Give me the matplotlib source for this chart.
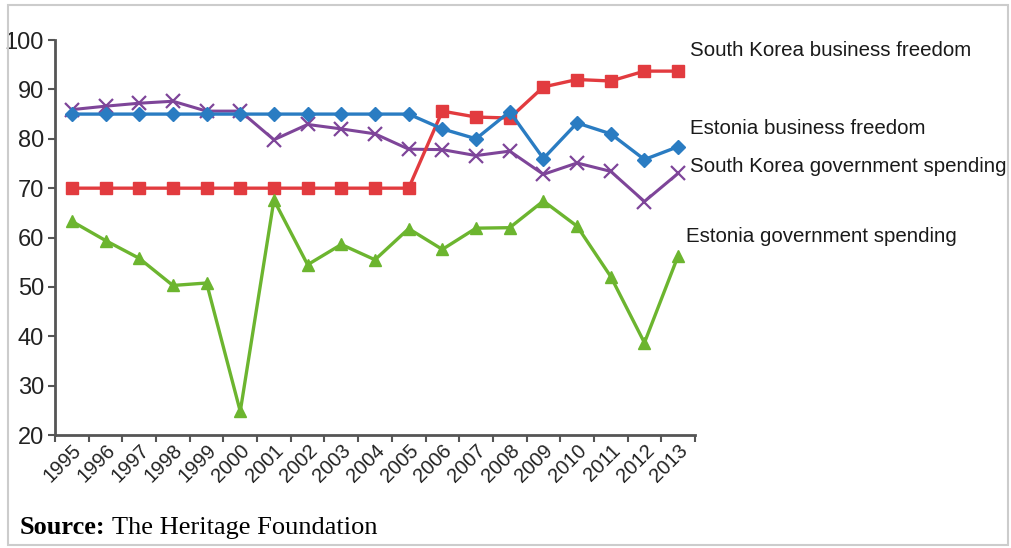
import numpy as np
import matplotlib.pyplot as plt
from matplotlib.patches import Rectangle
from matplotlib.ticker import FixedLocator, NullFormatter

years = [str(y) for y in range(1995, 2014)]

sk_business = [70, 70, 70, 70, 70, 70, 70, 70, 70, 70, 70,
               85.6, 84.4, 84.2, 90.5, 92.0, 91.7, 93.7, 93.7]
ee_business = [85, 85, 85, 85, 85, 85, 85, 85, 85, 85, 85,
               82.0, 80.0, 85.5, 76.0, 83.2, 81.0, 75.8, 78.4]
sk_spending = [85.9, 86.6, 87.2, 87.6, 85.6, 85.6, 79.8, 82.9, 82.0, 81.0,
               77.9, 77.8, 76.6, 77.5, 72.8, 75.1, 73.4, 67.3, 73.0]
ee_spending = [63.3, 59.4, 55.8, 50.3, 50.8, 24.8, 67.6, 54.5, 58.6, 55.5,
               61.8, 57.6, 61.9, 62.0, 67.4, 62.3, 52.1, 38.7, 56.3]

series_names = ["South Korea business freedom", "Estonia business freedom",
                "South Korea government spending", "Estonia government spending"]

plt.rcParams['font.family'] = ['Liberation Sans', 'DejaVu Sans']

fig = plt.figure(figsize=(10.11, 5.48), dpi=100)
ax = fig.add_axes([0.0544, 0.206, 0.633, 0.721])

x = np.arange(len(years))
ax.plot(x, sk_business, color='#e23b3f', lw=2.4, marker='s', ms=9, zorder=3)
ax.plot(x, ee_business, color='#2a7cc2', lw=2.4, marker='D', ms=7, zorder=4)
ax.plot(x, sk_spending, color='#7e4599', lw=2.2, marker='x', ms=10, mew=1.6, zorder=2)
ax.plot(x, ee_spending, color='#6cb52f', lw=2.4, marker='^', ms=9, zorder=3)

ax.set_xlim(-0.5, len(years) - 0.5)
ax.set_ylim(20, 100)
ax.set_yticks(range(20, 101, 10))
ax.tick_params(axis='y', labelsize=17, labelcolor='#222222', length=5, width=1.5,
               color='#555555', pad=3)

# year boundaries get the tick marks, labels sit under each point
ax.xaxis.set_major_locator(FixedLocator(np.arange(-0.5, len(years), 1.0)))
ax.xaxis.set_major_formatter(NullFormatter())
ax.xaxis.set_minor_locator(FixedLocator(x))
ax.set_xticklabels(years, minor=True, rotation=45, ha='right', rotation_mode='anchor')
ax.tick_params(axis='x', which='major', length=5, width=1.5, color='#555555')
ax.tick_params(axis='x', which='minor', length=0, labelsize=14.5,
               labelcolor='#222222', pad=4)

for side in ['top', 'right']:
    ax.spines[side].set_visible(False)
for side in ['left', 'bottom']:
    ax.spines[side].set_color('#555555')
    ax.spines[side].set_linewidth(2)
ax.patch.set_alpha(0)

# series labels on the right
label_pos = [(690, 50), (690, 129), (690, 166), (686, 237)]
for name, (px, py) in zip(series_names, label_pos):
    fig.text(px / 1011, 1 - py / 548, name, fontsize=14.8, va='center', ha='left',
             color='#1a1a1a')

fig.text(20 / 1011, 1 - 528 / 548, "Source:", fontsize=19, fontweight='bold',
         family=['Liberation Serif', 'DejaVu Serif'], va='center', ha='left')
fig.text(112 / 1011, 1 - 528 / 548, "The Heritage Foundation", fontsize=19,
         family=['Liberation Serif', 'DejaVu Serif'], va='center', ha='left')

fig.patches.append(Rectangle((8 / 1011, 3 / 548), 1000 / 1011, 540 / 548,
                             transform=fig.transFigure, fill=False,
                             edgecolor='#cccccc', lw=1.5))

fig.savefig('out.png', dpi=100)
